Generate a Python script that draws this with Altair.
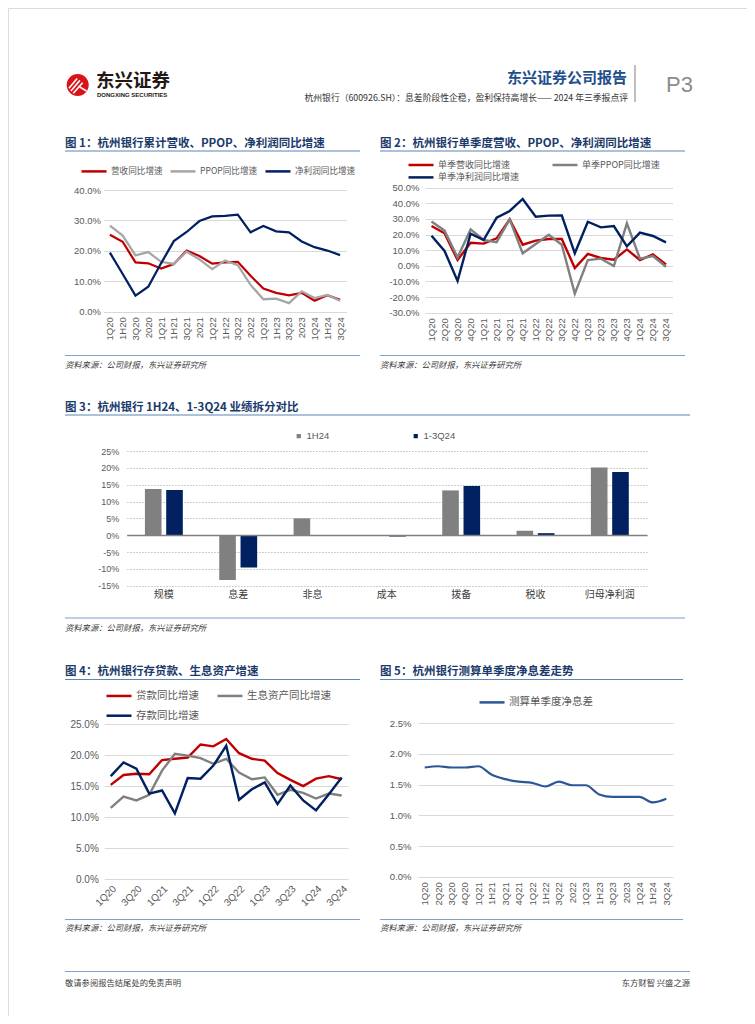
import altair as alt
import pandas as pd

W, H = 739, 1008
CJK = "Noto Sans CJK SC"
LAT = "Liberation Sans"
NAVY = "#002060"
RED = "#c00000"
TITLE_C = "#1b3a6b"
RULE_C = "#5b86b8"
AX_C = "#595959"

# ---------------- data ----------------
cum_periods = ["1Q20", "1H20", "3Q20", "2020", "1Q21", "1H21", "3Q21", "2021", "1Q22", "1H22",
               "3Q22", "2022", "1Q23", "1H23", "3Q23", "2023", "1Q24", "1H24", "3Q24"]
q_periods = ["1Q20", "2Q20", "3Q20", "4Q20", "1Q21", "2Q21", "3Q21", "4Q21", "1Q22", "2Q22",
             "3Q22", "4Q22", "1Q23", "2Q23", "3Q23", "4Q23", "1Q24", "2Q24", "3Q24"]
nim_periods = ["1Q20", "2Q20", "3Q20", "4Q20", "1Q21", "1H21", "3Q21", "4Q21", "1Q22", "1H22",
               "3Q22", "2022", "1Q23", "1H23", "3Q23", "2023", "1Q24", "1H24", "3Q24"]

# Fig 1 cumulative growth (%)
f1_series = ["营收同比增速", "PPOP同比增速", "净利润同比增速"]
f1_rev = [25.3, 23.0, 16.2, 15.9, 14.2, 15.7, 20.1, 18.3, 15.8, 16.2, 16.4, 11.8, 7.6, 6.2, 5.4, 6.2, 3.6, 5.4, 3.9]
f1_ppop = [28.3, 25.0, 18.5, 19.6, 16.4, 15.7, 19.7, 17.2, 14.0, 16.8, 15.3, 8.8, 4.1, 4.3, 2.8, 6.7, 4.5, 5.5, 3.6]
f1_np = [19.4, 12.4, 5.3, 8.2, 15.9, 23.2, 26.2, 29.8, 31.3, 31.5, 31.9, 26.1, 28.2, 26.4, 26.1, 23.1, 21.2, 20.1, 18.6]

# Fig 2 single-quarter growth (%)
f2_series = ["单季营收同比增速", "单季PPOP同比增速"]
f2_series_np = ["单季净利润同比增速"]
f2_rev = [25.5, 20.8, 3.7, 14.8, 14.2, 17.6, 29.7, 13.5, 16.1, 17.2, 17.2, -1.4, 7.6, 5.0, 3.9, 10.5, 3.7, 7.3, 0.9]
f2_ppop = [28.3, 22.5, 5.4, 23.3, 16.5, 15.2, 29.7, 8.0, 14.0, 19.9, 13.5, -17.8, 3.7, 4.6, -0.1, 27.2, 4.6, 6.3, -0.6]
f2_np = [19.3, 9.5, -9.7, 20.6, 16.5, 30.8, 35.1, 42.8, 31.4, 32.1, 32.3, 8.0, 28.2, 24.6, 25.5, 12.5, 21.2, 19.1, 15.0]

# Fig 3 attribution (%)
f3_cats = ["规模", "息差", "非息", "成本", "拨备", "税收", "归母净利润"]
f3_series = ["1H24", "1-3Q24"]
f3_1h24 = [13.7, -13.3, 5.0, 0.0, 13.3, 1.3, 20.1]
f3_13q24 = [13.4, -9.6, 0.0, -0.4, 14.6, 0.6, 18.8]

# Fig 4 loans / earning assets / deposits growth (%)
f4_series = ["贷款同比增速", "生息资产同比增速", "存款同比增速"]
f4_loan = [15.2, 16.8, 17.0, 16.9, 19.2, 19.4, 19.6, 21.7, 21.4, 22.6, 20.3, 19.4, 19.1, 17.1, 16.0, 15.0, 16.2, 16.6, 16.1]
f4_iea = [11.5, 13.3, 12.7, 13.6, 17.5, 20.2, 19.9, 19.5, 18.6, 19.4, 17.2, 16.1, 16.4, 13.6, 14.4, 13.9, 13.0, 13.8, 13.5]
f4_dep = [16.6, 18.8, 17.8, 13.8, 14.3, 10.6, 16.3, 16.2, 18.3, 21.5, 12.8, 14.5, 15.6, 12.1, 15.1, 12.7, 11.1, 13.7, 16.4]
f4_ticks = ["1Q20", "3Q20", "1Q21", "3Q21", "1Q22", "3Q22", "1Q23", "3Q23", "1Q24", "3Q24"]

# Fig 5 NIM (%)
f5_series = ["测算单季度净息差"]
f5_nim = [1.78, 1.80, 1.78, 1.78, 1.80, 1.66, 1.59, 1.55, 1.53, 1.47, 1.55, 1.49, 1.49, 1.34, 1.30, 1.30, 1.30, 1.21, 1.27]


def long(periods, series, arrays):
    rows = []
    for s, arr in zip(series, arrays):
        for i, (p, v) in enumerate(zip(periods, arr)):
            rows.append({"period": p, "series": s, "value": v, "idx": i})
    return pd.DataFrame(rows)


def px(v):
    return v - 8


def pct_expr(dec):
    return f"(datum.value < 0 ? '-' : '') + format(abs(datum.value), '.{dec}f') + '%'"


def line_legend(x, yc, columns, colpad, rowpad=2, size=9.0, symlen=25, sw=2.5):
    # yc: page y of the first row's centre line
    return alt.Legend(orient="none", legendX=px(x), legendY=px(yc - 13.3), direction="horizontal",
                      columns=columns, title=None, symbolType="stroke", symbolSize=symlen ** 2,
                      symbolStrokeWidth=sw, labelFont=CJK, labelFontSize=size, labelColor=AX_C,
                      labelOffset=3, columnPadding=colpad, rowPadding=rowpad, padding=0,
                      labelLimit=300)


def line_panel(df, periods, series, colors, x_range, y_dom, y_range, y_vals, y_dec,
               x_label_angle, x_label_pad, y_label_pad, legend, stroke_w=2.25,
               x_values=None, interpolate="linear", label_size=9.5, axes=True):
    xr = [px(x_range[0]), px(x_range[1])]
    yr = [px(y_range[0]), px(y_range[1])]
    if axes:
        xaxis_kw = dict(orient="bottom", offset=yr[0] - H, title=None, domain=False, ticks=False,
                        grid=False, labelAngle=x_label_angle, labelPadding=x_label_pad,
                        labelFont=LAT, labelFontSize=label_size, labelColor=AX_C,
                        labelOverlap=False)
        if x_values is not None:
            xaxis_kw["values"] = x_values
        xaxis = alt.Axis(**xaxis_kw)
        yaxis = alt.Axis(orient="left", offset=-xr[0], title=None, domain=False, ticks=False,
                         grid=True, gridColor="#d9d9d9", gridWidth=1, values=y_vals,
                         labelExpr=pct_expr(y_dec), labelPadding=y_label_pad, labelFont=LAT,
                         labelFontSize=label_size, labelColor=AX_C)
    else:
        xaxis = None
        yaxis = None
    return alt.Chart(df).mark_line(strokeWidth=stroke_w, interpolate=interpolate).encode(
        x=alt.X("period:N", sort=periods,
                scale=alt.Scale(type="point", domain=periods, range=xr, padding=0.5),
                axis=xaxis),
        y=alt.Y("value:Q",
                scale=alt.Scale(domain=y_dom, range=yr, nice=False, zero=False),
                axis=yaxis),
        color=alt.Color("series:N", sort=series,
                        scale=alt.Scale(domain=series, range=colors), legend=legend),
        order=alt.Order("idx:Q"),
    )


BLANK = alt.Data(values=[{}])


def text(s, x, y, size, color="#000000", font=CJK, weight="normal", align="left",
         style="normal", baseline="middle"):
    return alt.Chart(BLANK).mark_text(align=align, baseline=baseline, font=font, fontSize=size,
                                      fontWeight=weight, fontStyle=style, color=color).encode(
        x=alt.value(px(x)), y=alt.value(px(y)), text=alt.value(s))


def hline(x1, x2, y, color=RULE_C, width=1.0):
    return alt.Chart(BLANK).mark_rule(color=color, strokeWidth=width).encode(
        x=alt.value(px(x1)), x2=alt.value(px(x2)), y=alt.value(px(y)))


def vline(x, y1, y2, color="#7f7f7f", width=1.0):
    return alt.Chart(BLANK).mark_rule(color=color, strokeWidth=width).encode(
        x=alt.value(px(x)), y=alt.value(px(y1)), y2=alt.value(px(y2)))


layers = []

# ---------------- header ----------------
layers.append(alt.Chart(BLANK).mark_point(shape="circle", filled=True, size=484, color="#d7141a",
                                           opacity=1).encode(x=alt.value(px(77.7)), y=alt.value(px(85))))
layers.append(alt.Chart(BLANK).mark_point(
    shape="M -0.8 0.3 L -0.05 -0.6 M -0.62 0.55 L 0.2 -0.42 M -0.4 0.75 L 0.45 -0.2 M 0.05 0.1 L 0.8 0.55",
    filled=False, size=484, stroke="white", strokeWidth=1.6, opacity=1).encode(
    x=alt.value(px(77.7)), y=alt.value(px(85))))
layers.append(text("东兴证券", 96, 81, 18.5, color="#231815", weight="bold"))
layers.append(text("DONGXING SECURITIES", 97, 94.5, 6, color="#231815", font=LAT, weight="bold"))
layers.append(text("东兴证券公司报告", 627, 77.5, 15, color="#1f4e8d", weight="bold", align="right"))
layers.append(vline(635, 65, 102))
layers.append(text("P3", 666, 85, 22, color="#8c8c8c", font=LAT))
layers.append(text("杭州银行（600926.SH）：息差阶段性企稳，盈利保持高增长—— 2024 年三季报点评",
                   628, 97.7, 8.8, color="#333333", align="right"))

# ---------------- titles, rules, sources ----------------
SRC = "资料来源：公司财报，东兴证券研究所"
for t, x, y in [("图 1：杭州银行累计营收、PPOP、净利润同比增速", 65, 144),
                ("图 2：杭州银行单季度营收、PPOP、净利润同比增速", 380, 144),
                ("图 3：杭州银行 1H24、1-3Q24 业绩拆分对比", 65, 407.5),
                ("图 4：杭州银行存贷款、生息资产增速", 65, 671.5),
                ("图 5：杭州银行测算单季度净息差走势", 380, 671.5)]:
    layers.append(text(t, x, y, 11.5, color=TITLE_C, weight="bold"))
for x1, x2, y in [(65, 360, 151), (380, 685, 151), (65, 690, 415), (65, 360, 679.5), (380, 683, 679.5)]:
    layers.append(hline(x1, x2, y, RULE_C, 1.2))
for x1, x2, y in [(65, 360, 355.5), (380, 685, 355.5), (65, 685, 618), (65, 360, 919.5), (380, 683, 919.5)]:
    layers.append(hline(x1, x2, y, "#7fa0c8", 1.2))
for x, y in [(65, 365.5), (380, 365.5), (65, 628.5), (65, 929), (380, 929)]:
    layers.append(text(SRC, x, y, 8.3, color="#404040", style="italic"))

# ---------------- footer ----------------
layers.append(hline(65, 690, 971.5, "#7fa0c8", 1.2))
layers.append(text("敬请参阅报告结尾处的免责声明", 65, 984, 8.3, color="#404040"))
layers.append(text("东方财智 兴盛之源", 690, 984, 8.3, color="#404040", align="right"))

# ---------------- Fig 1 ----------------
df1 = long(cum_periods, f1_series, [f1_rev, f1_ppop, f1_np])
layers.append(line_panel(df1, cum_periods, f1_series, [RED, "#a6a6a6", NAVY],
                         x_range=[103.5, 346.5], y_dom=[0, 40], y_range=[311.7, 190],
                         y_vals=[0, 10, 20, 30, 40], y_dec=1, x_label_angle=-90,
                         x_label_pad=5, y_label_pad=3,
                         legend=line_legend(80, 170.7, 3, 2, size=8.6)))

# ---------------- Fig 2 ----------------
f2_kw = dict(x_range=[425, 672.5], y_dom=[-30, 50], y_range=[312.7, 187.7],
             y_vals=list(range(-30, 60, 10)), y_dec=1, x_label_angle=-90,
             x_label_pad=5, y_label_pad=6, stroke_w=2.4)
df2a = long(q_periods, f2_series, [f2_rev, f2_ppop])
layers.append(line_panel(df2a, q_periods, f2_series, [RED, "#808080"],
                         legend=line_legend(407, 164.3, 2, 36), **f2_kw))
df2b = long(q_periods, f2_series_np, [f2_np])
layers.append(line_panel(df2b, q_periods, f2_series_np, [NAVY], axes=False,
                         legend=line_legend(407, 176.7, 1, 10), **f2_kw))

# ---------------- Fig 3 ----------------
rows3 = []
for s, arr in zip(f3_series, [f3_1h24, f3_13q24]):
    for c, v in zip(f3_cats, arr):
        rows3.append({"cat": c, "series": s, "value": v})
df3 = pd.DataFrame(rows3)
layers.append(alt.Chart(df3).mark_bar().encode(
    x=alt.X("cat:N", sort=f3_cats,
            scale=alt.Scale(type="band", domain=f3_cats, range=[px(126.7), px(647)],
                            paddingInner=0.49, paddingOuter=0.245),
            axis=alt.Axis(orient="bottom", offset=px(535) - H, title=None, domain=True,
                          domainColor="#808080", domainWidth=1.3, ticks=False, grid=False,
                          labelAngle=0, labelPadding=54, labelFont=CJK, labelFontSize=10,
                          labelColor="#404040", zindex=1)),
    xOffset=alt.XOffset("series:N", sort=f3_series,
                        scale=alt.Scale(domain=f3_series, paddingInner=0.22)),
    y=alt.Y("value:Q", scale=alt.Scale(domain=[-15, 25], range=[px(585.7), px(451)], nice=False),
            axis=alt.Axis(orient="left", offset=-px(126.7), title=None, domain=False, ticks=False,
                          grid=True, gridColor="#bfbfbf", gridDash=[1.5, 1.5], gridWidth=1,
                          values=list(range(-15, 30, 5)), labelExpr="datum.value + '%'",
                          labelPadding=8, labelFont=LAT, labelFontSize=9, labelColor=AX_C)),
    color=alt.Color("series:N", sort=f3_series,
                    scale=alt.Scale(domain=f3_series, range=["#808080", NAVY]),
                    legend=alt.Legend(orient="none", legendX=px(294), legendY=px(431),
                                      direction="horizontal", columns=2, title=None,
                                      symbolType="square", symbolSize=18, labelFont=LAT,
                                      labelFontSize=9.5, labelColor=AX_C, labelOffset=3,
                                      columnPadding=81, padding=0)),
))

# ---------------- Fig 4 ----------------
df4 = long(q_periods, f4_series, [f4_loan, f4_iea, f4_dep])
layers.append(line_panel(df4, q_periods, f4_series, [RED, "#808080", NAVY],
                         x_range=[104.3, 348.1], y_dom=[0, 25], y_range=[879.3, 724],
                         y_vals=[0, 5, 10, 15, 20, 25], y_dec=1, x_label_angle=-45,
                         x_label_pad=4, y_label_pad=6, stroke_w=2.4, x_values=f4_ticks,
                         label_size=10,
                         legend=line_legend(105, 695, 2, 13, rowpad=-0.7, size=10.5)))

# ---------------- Fig 5 ----------------
df5 = long(nim_periods, f5_series, [f5_nim])
layers.append(line_panel(df5, nim_periods, f5_series, ["#2b5797"],
                         x_range=[418, 673], y_dom=[0, 2.5], y_range=[876.7, 723.3],
                         y_vals=[0, 0.5, 1.0, 1.5, 2.0, 2.5], y_dec=1, x_label_angle=-90,
                         x_label_pad=5, y_label_pad=7, stroke_w=2.2, interpolate="monotone",
                         legend=line_legend(478, 701.7, 1, 10, size=10.5)))

chart = alt.layer(*layers).properties(
    width=W, height=H, padding=0, autosize=alt.AutoSizeParams(type="none")
).resolve_scale(
    x="independent", y="independent", color="independent"
).configure_view(stroke=None).configure(background="white")

chart.save("out.html", embed_options={"renderer": "svg", "actions": False})
